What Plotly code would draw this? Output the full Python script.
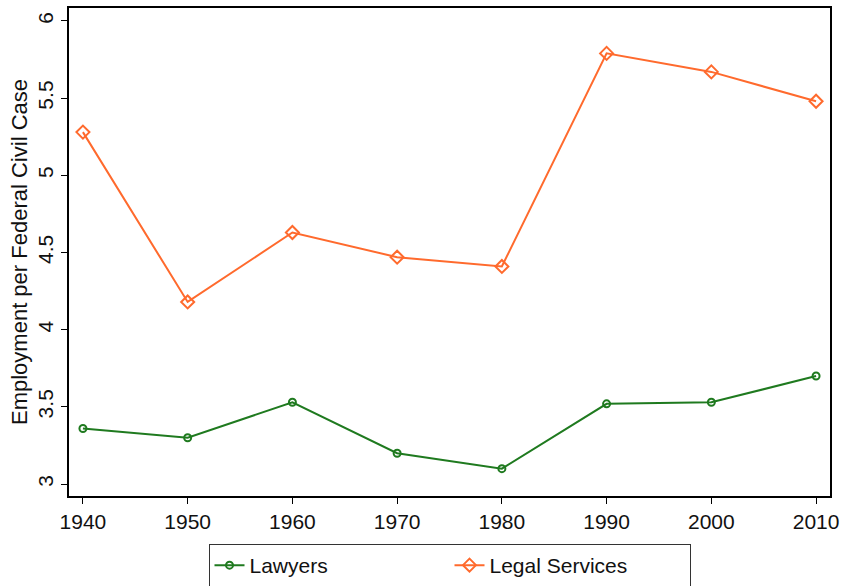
import plotly.graph_objects as go

years = [1940, 1950, 1960, 1970, 1980, 1990, 2000, 2010]
lawyers = [3.36, 3.30, 3.53, 3.20, 3.10, 3.52, 3.53, 3.70]
legal_services = [5.28, 4.18, 4.63, 4.47, 4.41, 5.79, 5.67, 5.48]
y_ticks = [3, 3.5, 4, 4.5, 5, 5.5, 6]
y_tick_labels = ["3", "3.5", "4", "4.5", "5", "5.5", "6"]

green = "#1f7a1f"
orange = "#ff6a2d"
FS = 21

fig = go.Figure()
fig.add_trace(go.Scatter(
    x=years, y=lawyers, name="Lawyers", mode="lines+markers",
    line=dict(color=green, width=2),
    marker=dict(symbol="circle-open", size=7, color=green, line=dict(width=2)),
))
fig.add_trace(go.Scatter(
    x=years, y=legal_services, name="Legal Services", mode="lines+markers",
    line=dict(color=orange, width=2),
    marker=dict(symbol="diamond-open", size=10, color=orange, line=dict(width=2)),
))

fig.update_layout(
    width=845, height=586,
    margin=dict(l=69, r=12, t=6, b=90),
    paper_bgcolor="white", plot_bgcolor="white",
    font=dict(family="Liberation Sans, Arial, sans-serif", size=FS, color="#111"),
    showlegend=True,
    legend=dict(
        orientation="h", x=0.5, xanchor="center",
        yref="container", y=1 - 544 / 586, yanchor="top",
        bordercolor="#333", borderwidth=1, font=dict(size=FS),
        entrywidth=195, entrywidthmode="pixels", tracegroupgap=0,
    ),
)
fig.update_xaxes(
    range=[1938.67, 2011.33], tickvals=years, ticktext=[str(y) for y in years],
    tickfont=dict(size=FS),
    showline=True, linecolor="black", linewidth=1.5, mirror=True,
    ticks="outside", ticklen=6, tickcolor="black", showgrid=False, zeroline=False,
)
fig.update_yaxes(
    range=[2.923, 6.084], tickvals=y_ticks, ticktext=y_tick_labels, tickangle=-90,
    tickfont=dict(size=FS),
    showline=True, linecolor="black", linewidth=1.5, mirror=True,
    ticks="outside", ticklen=6, tickcolor="black", showgrid=False, zeroline=False,
    title=dict(text="Employment per Federal Civil Case", standoff=0, font=dict(size=FS + 1)),
)

fig.write_html("out.html", config={"displayModeBar": False},
               post_script="document.body.style.margin='0';")
